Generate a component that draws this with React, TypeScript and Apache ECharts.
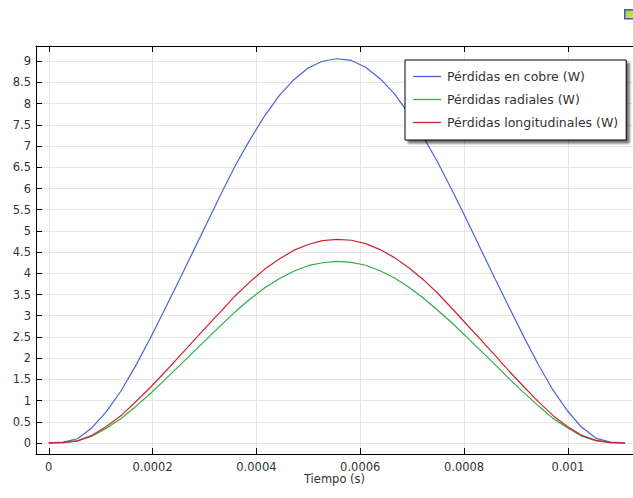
import React, { useEffect, useRef } from "react";
import * as echarts from "echarts";

const seriesNames = [
  "Pérdidas en cobre (W)",
  "Pérdidas radiales (W)",
  "Pérdidas longitudinales (W)",
];

const times = [
  0, 0.00002775, 0.0000555, 0.00008325, 0.000111, 0.00013875, 0.0001665,
  0.00019425, 0.000222, 0.00024975, 0.0002775, 0.00030525, 0.000333,
  0.00036075, 0.0003885, 0.00041625, 0.000444, 0.00047175, 0.0004995,
  0.00052725, 0.000555, 0.00058275, 0.0006105, 0.00063825, 0.000666,
  0.00069375, 0.0007215, 0.00074925, 0.000777, 0.00080475, 0.0008325,
  0.00086025, 0.000888, 0.00091575, 0.0009435, 0.00097125, 0.000999,
  0.00102675, 0.0010545, 0.00108225, 0.00111,
];

const copperLoss = [
  0, 0.02, 0.1, 0.36, 0.74, 1.22, 1.8, 2.44, 3.12, 3.8, 4.5, 5.2, 5.9, 6.57,
  7.17, 7.72, 8.19, 8.56, 8.84, 9.0, 9.06, 9.02, 8.86, 8.59, 8.23, 7.76, 7.22,
  6.62, 5.96, 5.27, 4.56, 3.86, 3.17, 2.49, 1.84, 1.25, 0.76, 0.37, 0.11, 0.02,
  0,
];

const radialLoss = [
  0, 0.01, 0.05, 0.16, 0.35, 0.57, 0.85, 1.15, 1.47, 1.8, 2.13, 2.46, 2.79,
  3.11, 3.4, 3.66, 3.87, 4.05, 4.18, 4.25, 4.28, 4.26, 4.19, 4.06, 3.89, 3.67,
  3.42, 3.13, 2.83, 2.5, 2.17, 1.84, 1.5, 1.18, 0.87, 0.58, 0.36, 0.16, 0.05,
  0.01, 0,
];

const longitudinalLoss = [
  0, 0.01, 0.05, 0.18, 0.39, 0.64, 0.96, 1.29, 1.65, 2.02, 2.39, 2.76, 3.12,
  3.49, 3.81, 4.1, 4.34, 4.54, 4.68, 4.77, 4.8, 4.78, 4.7, 4.56, 4.37, 4.13,
  3.85, 3.53, 3.17, 2.8, 2.43, 2.06, 1.68, 1.32, 0.97, 0.65, 0.39, 0.18, 0.06,
  0.01, 0,
];

const colors = ["#4d62dc", "#2fae45", "#cc2530"];

const FONT = "DejaVu Sans";

export default function App() {
  const ref = useRef<HTMLDivElement>(null);

  useEffect(() => {
    if (!ref.current) return;
    const chart = echarts.init(ref.current, undefined, { renderer: "svg" });
    const pair = (ys: number[]) => times.map((t, i) => [t, ys[i]]);
    const seriesData = [copperLoss, radialLoss, longitudinalLoss];

    const xMin = -0.0000246;
    const xMax = 0.0011255;

    chart.setOption({
      animation: false,
      backgroundColor: "#ffffff",
      textStyle: { fontFamily: FONT },
      grid: { left: 36, top: 46, right: -2, bottom: 44, containLabel: false },
      xAxis: [
        {
          type: "value",
          min: xMin,
          max: xMax,
          splitNumber: 6,
          position: "bottom",
          name: "Tiempo (s)",
          nameLocation: "middle",
          nameGap: 19,
          nameMoveOverlap: false,
          nameTextStyle: { color: "#333", fontSize: 11.5, fontFamily: FONT },
          axisLine: { show: true, onZero: false, lineStyle: { color: "#000", width: 1 } },
          axisTick: { show: true, inside: true, length: 6, lineStyle: { color: "#000" } },
          axisLabel: {
            showMinLabel: false,
            showMaxLabel: false,
            color: "#333",
            fontSize: 11.5,
            margin: 7,
            fontFamily: FONT,
          },
          splitLine: { show: true, lineStyle: { color: "#e6e6e6", width: 1 } },
        },
        {
          type: "value",
          min: xMin,
          max: xMax,
          splitNumber: 6,
          position: "top",
          axisLine: { show: true, onZero: false, lineStyle: { color: "#000", width: 1 } },
          axisTick: { show: true, inside: true, length: 6, lineStyle: { color: "#000" } },
          axisLabel: { show: false },
          splitLine: { show: false },
        },
      ],
      yAxis: {
        type: "value",
        min: -0.26,
        max: 9.36,
        splitNumber: 19,
        axisLine: { show: true, onZero: false, lineStyle: { color: "#000", width: 1 } },
        axisTick: { show: true, inside: true, length: 6, lineStyle: { color: "#000" } },
        axisLabel: {
          showMinLabel: false,
          showMaxLabel: false,
          color: "#333",
          fontSize: 11.5,
          margin: 5,
          fontFamily: FONT,
        },
        splitLine: { show: true, lineStyle: { color: "#e6e6e6", width: 1 } },
      },
      legend: {
        orient: "vertical",
        left: 405,
        top: 60,
        data: seriesNames,
        icon: "rect",
        backgroundColor: "#ffffff",
        borderColor: "#000",
        borderWidth: 1,
        borderRadius: 0,
        shadowColor: "rgba(0,0,0,0.55)",
        shadowOffsetX: 3,
        shadowOffsetY: 3,
        shadowBlur: 2,
        padding: [10, 8, 11, 8],
        itemGap: 10,
        itemWidth: 28,
        itemHeight: 1.3,
        textStyle: { color: "#333", fontSize: 12.5, fontFamily: FONT, padding: [0, 0, 0, 1] },
      },
      graphic: [
        {
          type: "rect",
          left: 624,
          top: 9,
          shape: { width: 9, height: 9 },
          style: {
            fill: new echarts.graphic.LinearGradient(0, 0, 1, 1, [
              { offset: 0, color: "#8ad04a" },
              { offset: 1, color: "#f0e060" },
            ]),
            stroke: "#4a5a9a",
            lineWidth: 1.5,
          },
        },
      ],
      series: seriesNames.map((name, i) => ({
        name,
        type: "line",
        data: pair(seriesData[i]),
        symbol: "none",
        smooth: false,
        lineStyle: { color: colors[i], width: 1.2 },
        itemStyle: { color: colors[i] },
        z: i === 0 ? 3 : i === 2 ? 4 : 2,
      })),
    });
    return () => chart.dispose();
  }, []);

  return (
    <div
      ref={ref}
      style={{ position: "absolute", left: 0, top: 0, width: 633, height: 498 }}
    />
  );
}
